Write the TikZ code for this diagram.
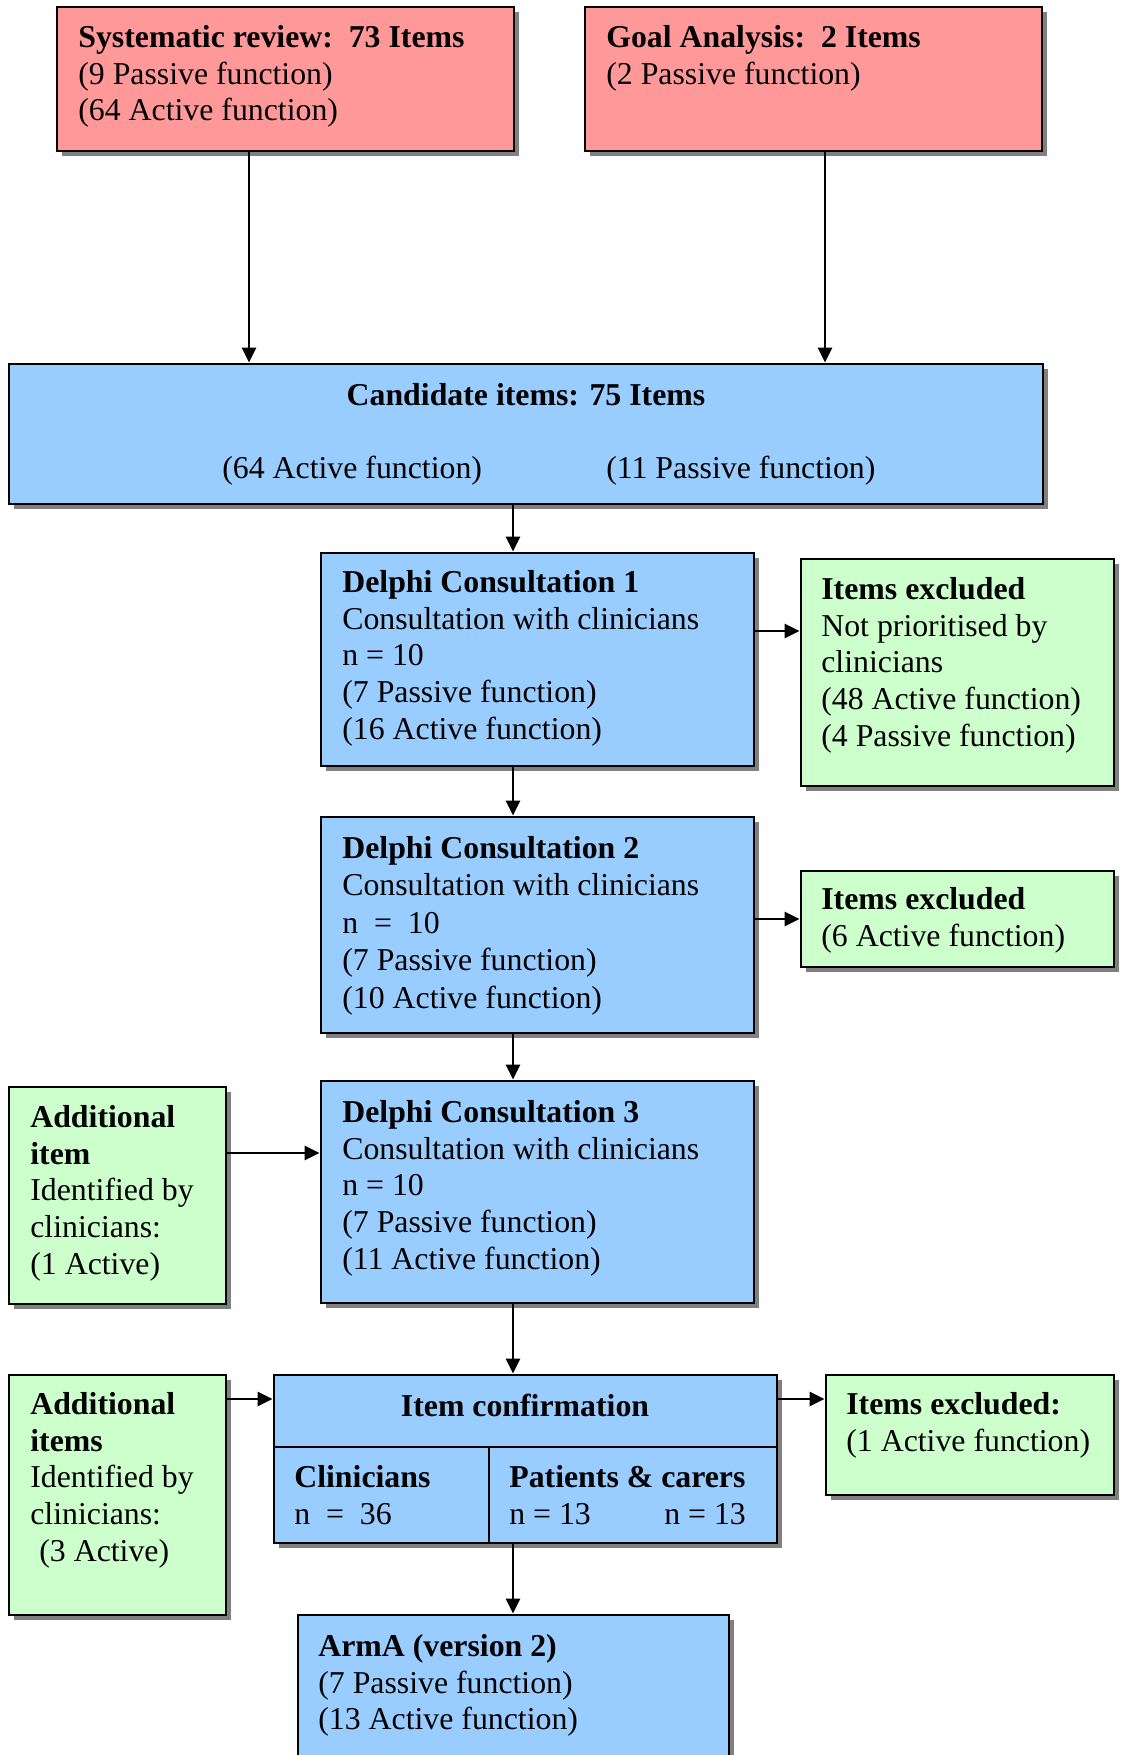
\documentclass[tikz,border=0pt]{standalone}
\usepackage{fontspec}
\setmainfont{Liberation Serif}
\usepackage{tikz}
\usetikzlibrary{arrows.meta,fit,shadows}
\definecolor{redfill}{RGB}{255,153,153}
\definecolor{bluefill}{RGB}{153,204,255}
\definecolor{greenfill}{RGB}{204,255,204}
\tikzset{
	box/.style={draw=black, line width=0.055cm, inner sep=0pt,
		drop shadow={shadow xshift=0.1cm, shadow yshift=-0.1cm, fill=black!50, opacity=1}},
	redbox/.style={box, fill=redfill},
	bluebox/.style={box, fill=bluefill},
	greenbox/.style={box, fill=greenfill},
	txt/.style={inner sep=0pt, anchor=north west, align=left, font=\fontsize{18.1}{20.9}\selectfont},
	arr/.style={line width=0.055cm, -{Triangle[length=0.3cm, width=0.28cm]}}
}

\begin{document}
\begin{tikzpicture}[x=0.02cm, y=-0.02cm]
			%%%%% START %%%%%
			\useasboundingbox (0, 0) rectangle (1120, 1755);
			
			% sources
			\node[redbox, fit={(57, 7) (514, 151)}] (sys) {};
			\node[txt] (sys-t) at (78, 25) {\textbf{Systematic review:\ \ 73 Items}\\(9 Passive function)\\(64 Active function)};
			
			\node[redbox, fit={(585, 7) (1042, 151)}] (goal) {};
			\node[txt] (goal-t) at (606, 25) {\textbf{Goal Analysis:\ \ 2 Items}\\(2 Passive function)};
			
			\node[bluebox, fit={(9, 364) (1043, 504)}] (cand) {};
			\node[txt, anchor=north] (cand-t) at (526, 383) {\textbf{Candidate items: 75 Items}};
			\node[txt, anchor=base west] (cand-a) at (222, 478) {(64 Active function)};
			\node[txt, anchor=base west] (cand-p) at (606, 478) {(11 Passive function)};
			
			% delphi rounds
			\node[bluebox, fit={(321, 553) (754, 766)}] (d1) {};
			\node[txt] (d1-t) at (342, 570) {\textbf{Delphi Consultation 1}\\Consultation with clinicians\\n = 10\\(7 Passive function)\\(16 Active function)};
			
			\node[greenbox, fit={(801, 559) (1114, 786)}] (ex1) {};
			\node[txt] (ex1-t) at (821, 577) {\textbf{Items excluded}\\Not prioritised by\\clinicians\\(48 Active function)\\(4 Passive function)};
			
			\node[bluebox, fit={(321, 817) (754, 1033)}] (d2) {};
			\node[txt, font=\fontsize{18.1}{21.3}\selectfont] (d2-t) at (342, 836) {\textbf{Delphi Consultation 2}\\Consultation with clinicians\\n\ \ =\ \ 10\\(7 Passive function)\\(10 Active function)};
			
			\node[greenbox, fit={(801, 871) (1114, 967)}] (ex2) {};
			\node[txt] (ex2-t) at (821, 887) {\textbf{Items excluded}\\(6 Active function)};
			
			\node[bluebox, fit={(321, 1081) (754, 1303)}] (d3) {};
			\node[txt] (d3-t) at (342, 1100) {\textbf{Delphi Consultation 3}\\Consultation with clinicians\\n = 10\\(7 Passive function)\\(11 Active function)};
			
			\node[greenbox, fit={(9, 1087) (226, 1304)}] (add1) {};
			\node[txt] (add1-t) at (30, 1105) {\textbf{Additional}\\\textbf{item}\\Identified by\\clinicians:\\(1 Active)};
			
			% confirmation
			\node[bluebox, fit={(274, 1375) (777, 1447)}] (conf) {};
			\node[txt, anchor=north] (conf-t) at (525, 1394) {\textbf{Item confirmation}};
			\node[bluebox, fit={(274, 1447) (489, 1543)}] (clin) {};
			\node[txt] (clin-t) at (294, 1465) {\textbf{Clinicians}\\n\ \ =\ \ 36};
			\node[bluebox, fit={(489, 1447) (777, 1543)}] (pat) {};
			\node[txt] (pat-t) at (509, 1465) {\textbf{Patients \& carers}\\\makebox[3.1cm][l]{n = 13}n = 13};
			
			\node[greenbox, fit={(9, 1375) (226, 1615)}] (add2) {};
			\node[txt] (add2-t) at (30, 1392) {\textbf{Additional}\\\textbf{items}\\Identified by\\clinicians:\\\hspace*{0.18cm}(3 Active)};
			
			\node[greenbox, fit={(826, 1375) (1114, 1495)}] (ex3) {};
			\node[txt] (ex3-t) at (846, 1392) {\textbf{Items excluded:}\\(1 Active function)};
			
			\node[bluebox, fit={(298, 1615) (729, 1800)}] (arma) {};
			\node[txt] (arma-t) at (318, 1634) {\textbf{ArmA (version 2)}\\(7 Passive function)\\(13 Active function)};
			
			% connectors
			\coordinate (c-sys) at (249, 0);
			\coordinate (c-goal) at (825, 0);
			\coordinate (spine) at (513, 0);
			\coordinate (r1) at (0, 631);
			\coordinate (r2) at (0, 919);
			\coordinate (r3) at (0, 1153);
			\coordinate (r4) at (0, 1399);
			
			\draw[arr] (sys.south -| c-sys) -- (cand.north -| c-sys);
			\draw[arr] (goal.south -| c-goal) -- (cand.north -| c-goal);
			\draw[arr] (cand.south -| spine) -- (d1.north -| spine);
			\draw[arr] (d1.south -| spine) -- (d2.north -| spine);
			\draw[arr] (d2.south -| spine) -- (d3.north -| spine);
			\draw[arr] (d3.south -| spine) -- (conf.north -| spine);
			\draw[arr] (pat.south -| spine) -- (arma.north -| spine);
			
			\draw[arr] (d1.east |- r1) -- (ex1.west |- r1);
			\draw[arr] (d2.east |- r2) -- (ex2.west |- r2);
			\draw[arr] (add1.east |- r3) -- (d3.west |- r3);
			\draw[arr] (add2.east |- r4) -- (conf.west |- r4);
			\draw[arr] (conf.east |- r4) -- (ex3.west |- r4);
			
			%%%%% END %%%%%
\end{tikzpicture}
\end{document}
